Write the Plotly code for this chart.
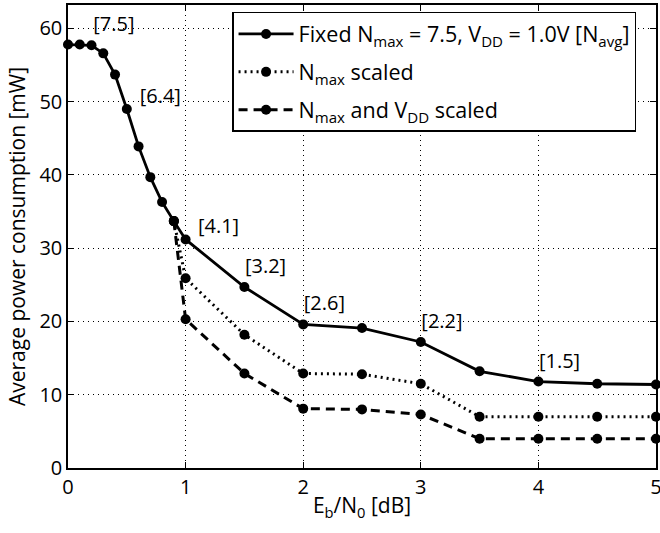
import plotly.graph_objects as go

x_fixed = [0, 0.1, 0.2, 0.3, 0.4, 0.5, 0.6, 0.7, 0.8, 0.9, 1.0, 1.5, 2.0, 2.5, 3.0, 3.5, 4.0, 4.5, 5.0]
y_fixed = [57.8, 57.8, 57.7, 56.6, 53.7, 49.0, 43.9, 39.7, 36.3, 33.7, 31.2, 24.7, 19.6, 19.1, 17.2, 13.2, 11.8, 11.5, 11.4]

x_scaled = [0.9, 1.0, 1.5, 2.0, 2.5, 3.0, 3.5, 4.0, 4.5, 5.0]
y_nmax = [33.7, 25.9, 18.2, 12.9, 12.8, 11.5, 7.0, 7.0, 7.0, 7.0]
y_nmax_vdd = [33.7, 20.3, 12.9, 8.1, 8.0, 7.3, 4.0, 4.0, 4.0, 4.0]

label_x = [0.39, 0.785, 1.28, 1.68, 2.18, 3.18, 4.18]
label_y = [60.3, 50.5, 32.8, 27.3, 22.3, 19.8, 14.3]
label_text = ["[7.5]", "[6.4]", "[4.1]", "[3.2]", "[2.6]", "[2.2]", "[1.5]"]

FONT = "Open Sans"
FS_TICK = 20
FS_TITLE = 21
FS_LEG = 21.5
FS_LAB = 20

fig = go.Figure()
fig.add_trace(go.Scatter(
    x=x_fixed, y=y_fixed, mode="lines+markers",
    name="Fixed N<sub>max</sub> = 7.5, V<sub>DD</sub> = 1.0V [N<sub>avg</sub>]",
    line=dict(color="black", width=2.8),
    marker=dict(color="black", size=10), legendgroup="a", cliponaxis=False))
fig.add_trace(go.Scatter(
    x=x_scaled, y=y_nmax, mode="lines+markers",
    name="N<sub>max</sub> scaled",
    line=dict(color="black", width=3, dash="2px,4px"),
    marker=dict(color="black", size=10), legendgroup="b", cliponaxis=False))
fig.add_trace(go.Scatter(
    x=x_scaled, y=y_nmax_vdd, mode="lines+markers",
    name="N<sub>max</sub> and V<sub>DD</sub> scaled",
    line=dict(color="black", width=3, dash="9px,6px"),
    marker=dict(color="black", size=10), legendgroup="c", cliponaxis=False))

fig.add_trace(go.Scatter(
    x=label_x, y=label_y, mode="text", text=label_text,
    textfont=dict(family=FONT, size=FS_LAB, color="black"),
    showlegend=False, hoverinfo="skip", cliponaxis=False))

axis_common = dict(
    showline=True, linecolor="black", linewidth=1.5, mirror="ticks",
    ticks="inside", ticklen=6, tickcolor="black", tickwidth=1,
    showgrid=True, gridcolor="black", gridwidth=1, griddash="1px,4px",
    zeroline=False, tickfont=dict(family=FONT, size=FS_TICK, color="black"),
    automargin=False, ticklabeloverflow="allow",
)

fig.update_xaxes(range=[0, 5], tickvals=[0, 1, 2, 3, 4, 5],
                 title=dict(text="E<sub>b</sub>/N<sub>0</sub> [dB]", font=dict(family=FONT, size=FS_TITLE, color="black"), standoff=0),
                 **axis_common)
fig.update_yaxes(range=[0, 63.2], tickvals=[0, 10, 20, 30, 40, 50, 60],
                 title=dict(text="Average power consumption [mW]", font=dict(family=FONT, size=FS_TITLE, color="black"), standoff=8),
                 **axis_common)

fig.update_layout(
    width=660, height=533,
    margin=dict(l=68, r=4, t=5, b=64.5),
    plot_bgcolor="white", paper_bgcolor="white",
    font=dict(family=FONT, size=FS_TICK, color="black"),
    legend=dict(x=0.279, y=0.985, xanchor="left", yanchor="top",
                bgcolor="white", bordercolor="black", borderwidth=1.5,
                font=dict(family=FONT, size=FS_LEG, color="black"),
                tracegroupgap=7, itemwidth=55),
)

fig.write_html("out.html", config={"displayModeBar": False},
               post_script="document.body.style.margin='0';")
